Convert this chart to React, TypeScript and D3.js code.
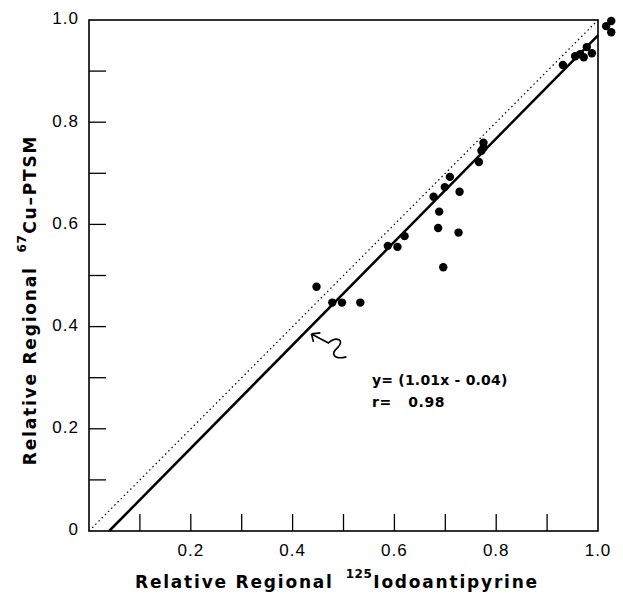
import * as d3 from 'd3';
import React, { useMemo } from 'react';

// iodoantipyrine (x) vs Cu-PTSM (y)
const xValues = [
  0.447, 0.478, 0.497, 0.533, 0.587, 0.606, 0.62, 0.677, 0.686, 0.688, 0.696, 0.699, 0.709, 0.726, 0.728,
  0.766, 0.771, 0.775, 0.775, 0.931, 0.955, 0.965, 0.972, 0.978, 0.988, 1.016, 1.026, 1.026,
];
const yValues = [
  0.478, 0.447, 0.447, 0.447, 0.558, 0.556, 0.577, 0.654, 0.593, 0.625, 0.516, 0.673, 0.693, 0.584, 0.664,
  0.722, 0.744, 0.75, 0.76, 0.912, 0.929, 0.933, 0.927, 0.947, 0.935, 0.988, 0.998, 0.976,
];

const xTickLabels = [0.2, 0.4, 0.6, 0.8, 1.0];
const yTickLabels = [0, 0.2, 0.4, 0.6, 0.8, 1.0];
const minorTicks = [0.1, 0.2, 0.3, 0.4, 0.5, 0.6, 0.7, 0.8, 0.9];

const slope = 1.01;
const intercept = -0.04;

const WIDTH = 623;
const HEIGHT = 601;
const MARGIN = { top: 20, right: 25, bottom: 70, left: 89 };

const FONT = "'Liberation Sans', Arial, Helvetica, sans-serif";
const BOLD_FONT = "'DejaVu Sans', Verdana, sans-serif";

export default function App() {
  const boundsWidth = WIDTH - MARGIN.left - MARGIN.right;
  const boundsHeight = HEIGHT - MARGIN.top - MARGIN.bottom;

  const xScale = useMemo(() => d3.scaleLinear().domain([0, 1]).range([0, boundsWidth]), [boundsWidth]);
  const yScale = useMemo(() => d3.scaleLinear().domain([0, 1]).range([boundsHeight, 0]), [boundsHeight]);

  const line = d3
    .line<[number, number]>()
    .x(d => xScale(d[0]))
    .y(d => yScale(d[1]));

  const x0 = -intercept / slope;
  const regression: [number, number][] = [
    [x0, 0],
    [1, slope * 1 + intercept],
  ];
  const identity: [number, number][] = [
    [0, 0],
    [1, 1],
  ];

  const tickLen = 17;

  // arrow from the equation up to the fitted line
  const tipX = 0.437;
  const tx = xScale(tipX);
  const ty = yScale(slope * tipX + intercept) + 8;

  return (
    <svg width={WIDTH} height={HEIGHT} style={{ position: 'absolute', left: 0, top: 0, background: '#fff' }}>
      <g transform={`translate(${MARGIN.left},${MARGIN.top})`}>
        {/* frame */}
        <rect x={0} y={0} width={boundsWidth} height={boundsHeight} fill="none" stroke="#000" strokeWidth={1.6} />

        {/* inward ticks */}
        {minorTicks.map(t => (
          <line
            key={'xt' + t}
            x1={xScale(t)}
            x2={xScale(t)}
            y1={boundsHeight}
            y2={boundsHeight - tickLen}
            stroke="#000"
            strokeWidth={1.3}
          />
        ))}
        {minorTicks.map(t => (
          <line
            key={'yt' + t}
            x1={0}
            x2={tickLen}
            y1={yScale(t)}
            y2={yScale(t)}
            stroke="#000"
            strokeWidth={1.3}
          />
        ))}

        {/* tick labels */}
        {xTickLabels.map(t => (
          <text
            key={'xl' + t}
            x={xScale(t)}
            y={boundsHeight + 25}
            textAnchor="middle"
            fontFamily={FONT}
            fontSize={17}
            letterSpacing={1}
          >
            {t.toFixed(1)}
          </text>
        ))}
        {yTickLabels.map(t => (
          <text
            key={'yl' + t}
            x={-10}
            y={yScale(t)}
            dominantBaseline="middle"
            textAnchor="end"
            fontFamily={FONT}
            fontSize={17}
            letterSpacing={1}
          >
            {t === 0 ? '0' : t.toFixed(1)}
          </text>
        ))}

        {/* lines */}
        <path d={line(identity) ?? ''} fill="none" stroke="#000" strokeWidth={1.2} strokeDasharray="1.5 3" />
        <path d={line(regression) ?? ''} fill="none" stroke="#000" strokeWidth={2.5} />

        {/* points */}
        {xValues.map((x, i) => (
          <circle key={i} cx={xScale(x)} cy={yScale(yValues[i])} r={4.2} fill="#000" />
        ))}

        {/* annotation */}
        <path
          d={`M${tx},${ty} l9,-1 M${tx},${ty} l2,8 M${tx},${ty} l17,9 c8,-7 17,-3 9,5 c-7,6 -4,12 9,9`}
          fill="none"
          stroke="#000"
          strokeWidth={1.7}
        />
        <text x={283} y={365} fontFamily={BOLD_FONT} fontSize={14} fontWeight="bold" letterSpacing={0.2}>
          y= (1.01x - 0.04)
        </text>
        <text
          x={283}
          y={387}
          fontFamily={BOLD_FONT}
          fontSize={14}
          fontWeight="bold"
          letterSpacing={0.6}
          xmlSpace="preserve"
        >
          r=   0.98
        </text>
      </g>

      {/* axis titles */}
      <text x={135} y={588} fontFamily={BOLD_FONT} fontSize={17} fontWeight="bold" letterSpacing={1.8}>
        Relative Regional
        <tspan dx={12} dy={-10} fontSize={12} letterSpacing={0.5}>
          125
        </tspan>
        <tspan dx={1} dy={10}>
          Iodoantipyrine
        </tspan>
      </text>
      <text
        transform="translate(36,300) rotate(-90)"
        textAnchor="middle"
        fontFamily={BOLD_FONT}
        fontSize={17}
        fontWeight="bold"
        letterSpacing={1.8}
      >
        Relative Regional
        <tspan dx={14} dy={-10} fontSize={12} letterSpacing={0.5}>
          67
        </tspan>
        <tspan dx={1} dy={10}>
          Cu–PTSM
        </tspan>
      </text>
    </svg>
  );
}
